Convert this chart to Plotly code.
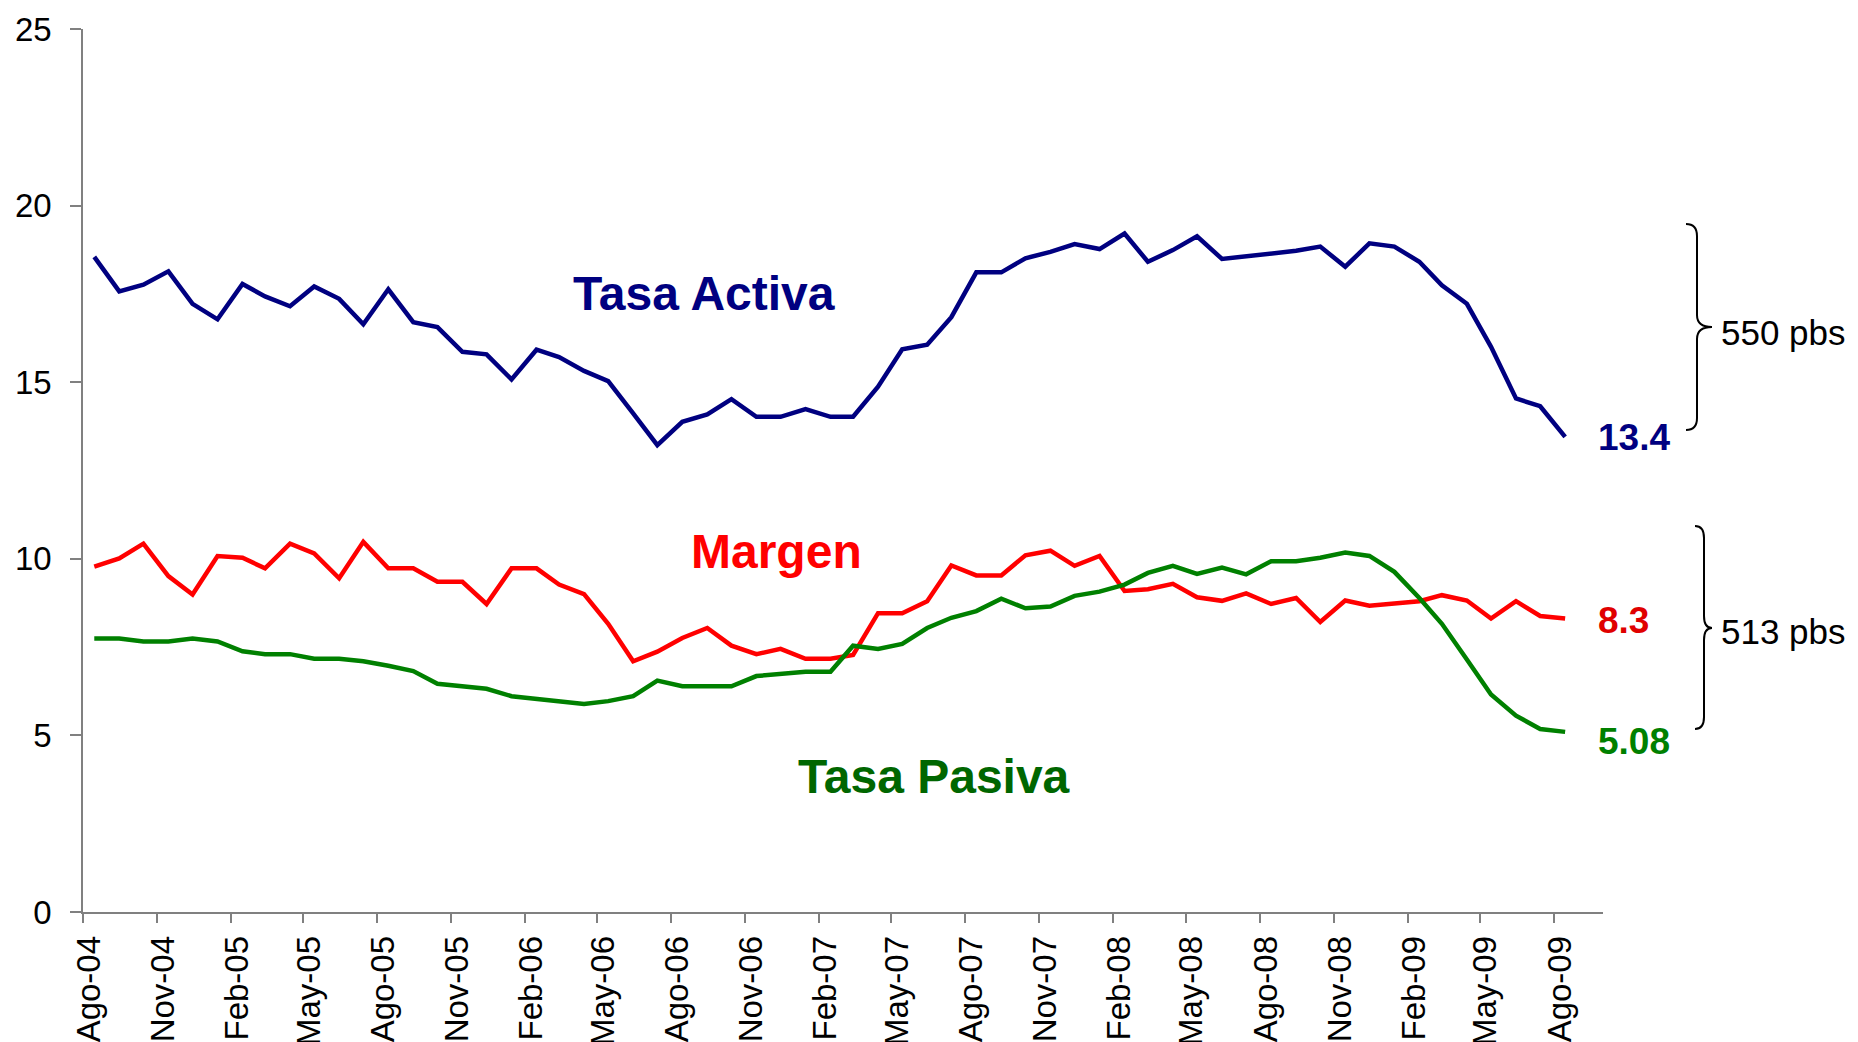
import pandas as pd
import plotly.graph_objects as go

# ---------------- data ----------------
meses_es = ["Ene", "Feb", "Mar", "Abr", "May", "Jun", "Jul", "Ago", "Sep", "Oct", "Nov", "Dic"]
month_starts = pd.date_range("2004-08-01", "2009-08-01", freq="MS")
month_labels = [f"{meses_es[d.month - 1]}-{d.strftime('%y')}" for d in month_starts]
obs_dates = month_starts + pd.Timedelta(days=14)  # monthly observations (mid-month)

tasa_activa = [
    18.55, 17.57, 17.76, 18.14, 17.22, 16.78, 17.78, 17.43, 17.15, 17.71,
    17.36, 16.64, 17.63, 16.70, 16.56, 15.86, 15.79, 15.08, 15.92, 15.71,
    15.32, 15.03, 14.12, 13.22, 13.88, 14.09, 14.52, 14.02, 14.02, 14.24,
    14.02, 14.02, 14.87, 15.93, 16.06, 16.84, 18.11, 18.11, 18.51, 18.69,
    18.91, 18.77, 19.21, 18.41, 18.74, 19.13, 18.49, 18.56, 18.65, 18.72,
    18.84, 18.27, 18.93, 18.84, 18.41, 17.74, 17.22, 16.00, 14.54, 14.32,
    13.45,
]
margen = [
    9.78, 10.01, 10.43, 9.51, 8.99, 10.08, 10.03, 9.73, 10.43, 10.15,
    9.45, 10.48, 9.73, 9.73, 9.35, 9.35, 8.72, 9.73, 9.73, 9.27,
    9.00, 8.16, 7.10, 7.37, 7.76, 8.04, 7.54, 7.30, 7.45, 7.17,
    7.17, 7.28, 8.46, 8.46, 8.80, 9.81, 9.53, 9.53, 10.10, 10.23,
    9.80, 10.08, 9.09, 9.14, 9.29, 8.91, 8.81, 9.02, 8.72, 8.89,
    8.21, 8.82, 8.67, 8.72, 8.80, 8.97, 8.82, 8.31, 8.80, 8.38,
    8.31,
]
tasa_pasiva = [
    7.74, 7.74, 7.66, 7.66, 7.74, 7.66, 7.38, 7.30, 7.30, 7.17,
    7.17, 7.10, 6.97, 6.82, 6.46, 6.39, 6.32, 6.11, 6.04, 5.97,
    5.89, 5.97, 6.11, 6.55, 6.39, 6.39, 6.39, 6.68, 6.75, 6.80,
    6.80, 7.54, 7.45, 7.59, 8.04, 8.33, 8.52, 8.87, 8.60, 8.65,
    8.95, 9.07, 9.27, 9.60, 9.80, 9.57, 9.75, 9.56, 9.93, 9.93,
    10.03, 10.18, 10.08, 9.63, 8.89, 8.16, 7.15, 6.16, 5.56, 5.18,
    5.10,
]
series_names = ["Tasa Activa", "Margen", "Tasa Pasiva"]
end_labels = ["13.4", "8.3", "5.08"]
spread_labels = ["550 pbs", "513 pbs"]
y_ticks = [0, 5, 10, 15, 20, 25]

# ---------------- layout helpers ----------------
# The page body has an 8px margin, so the figure is 8px smaller and all
# page coordinates below are shifted by OFF.
OFF = 8
W, H = 1858 - OFF, 1042 - OFF
PLOT_L, PLOT_R, PLOT_T, PLOT_B = 83, 1603, 29, 912   # page pixels
L, R, T = PLOT_L - OFF, W - (PLOT_R - OFF), PLOT_T - OFF
B = H - (PLOT_B - OFF)
PW, PH = W - L - R, H - T - B


def pxx(x):
    return (x - OFF - L) / PW


def pxy(y):
    return (H - B - (y - OFF)) / PH


FONT = "Liberation Sans, Arial, sans-serif"
NAVY, RED, GREEN = "#000080", "#FF0000", "#008000"

fig = go.Figure()
for name, vals, col in [(series_names[0], tasa_activa, NAVY),
                        (series_names[1], margen, RED),
                        (series_names[2], tasa_pasiva, GREEN)]:
    fig.add_trace(go.Scatter(x=obs_dates, y=vals, mode="lines", name=name,
                             line=dict(color=col, width=4.5), showlegend=False))

ann = []


def add_text(text, x, y, size, color, bold=False, xanchor="center"):
    ann.append(dict(text=f"<b>{text}</b>" if bold else text, x=pxx(x), y=pxy(y),
                    xref="paper", yref="paper", xanchor=xanchor, yanchor="middle",
                    showarrow=False, font=dict(family=FONT, size=size, color=color)))


add_text(series_names[0], 704, 293, 48, NAVY, bold=True)
add_text(series_names[1], 776, 551, 48, RED, bold=True)
add_text(series_names[2], 934, 776, 48, "#006600", bold=True)
add_text(end_labels[0], 1596, 438, 37, NAVY, bold=True, xanchor="left")
add_text(end_labels[1], 1596, 620, 37, "#E00000", bold=True, xanchor="left")
add_text(end_labels[2], 1596, 741, 37, GREEN, bold=True, xanchor="left")
add_text(spread_labels[0], 1719, 332, 35, "black", xanchor="left")
add_text(spread_labels[1], 1719, 631, 35, "black", xanchor="left")


def brace(xh, xl, xt, yt, ym, yb, r=12):
    pts = [
        ("M", [(xh, yt)]),
        ("Q", [(xl, yt), (xl, yt + r)]),
        ("L", [(xl, ym - r)]),
        ("Q", [(xl, ym), (xt, ym)]),
        ("Q", [(xl, ym), (xl, ym + r)]),
        ("L", [(xl, yb - r)]),
        ("Q", [(xl, yb), (xh, yb)]),
    ]
    s = ""
    for cmd, ps in pts:
        s += cmd + " " + " ".join(f"{pxx(a):.5f},{pxy(b):.5f}" for a, b in ps) + " "
    return s.strip()


shapes = [
    dict(type="path", xref="paper", yref="paper", path=brace(1686, 1697, 1712, 224, 327, 430),
         line=dict(color="black", width=2)),
    dict(type="path", xref="paper", yref="paper", path=brace(1695, 1704, 1712, 526, 628, 729),
         line=dict(color="black", width=2)),
]

tick_idx = list(range(0, len(month_starts), 3))
fig.update_layout(
    width=W, height=H,
    margin=dict(l=L, r=R, t=T, b=B, pad=0),
    paper_bgcolor="white", plot_bgcolor="white",
    annotations=ann, shapes=shapes,
    font=dict(family=FONT, color="black"),
    xaxis=dict(type="date", range=["2004-08-01", "2009-10-01"],
               tickvals=[month_starts[i] for i in tick_idx],
               ticktext=[month_labels[i] for i in tick_idx],
               tickangle=-90, tickfont=dict(size=33, family=FONT, color="black"),
               showline=True, linecolor="#808080", linewidth=1.5,
               ticks="outside", ticklen=9, tickcolor="#808080", tickwidth=1.5,
               showgrid=False, zeroline=False, ticklabelstandoff=0, ticklabelshift=6,
               automargin=False),
    yaxis=dict(range=[0, 25], tickvals=y_ticks,
               tickfont=dict(size=33, family=FONT, color="black"),
               showline=True, linecolor="#808080", linewidth=1.5,
               ticks="outside", ticklen=11, tickcolor="#808080", tickwidth=1.5,
               showgrid=False, zeroline=False, ticklabelstandoff=12,
               automargin=False),
)

fig.write_html("out.html")
